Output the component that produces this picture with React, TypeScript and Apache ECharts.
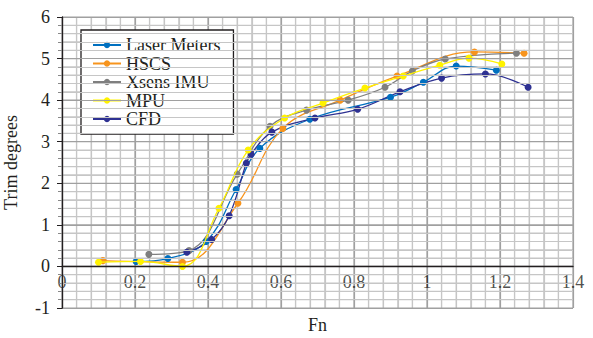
import React, { useEffect, useRef } from "react";
import * as echarts from "echarts";

const seriesNames = ["Laser Meters", "HSCS", "Xsens IMU", "MPU", "CFD"];
const seriesColors = ["#0070C0", "#F7941D", "#7F7F7F", "#FFF200", "#2E3192"];

const laserFn = [0.203, 0.29, 0.395, 0.477, 0.542, 0.679, 0.9, 0.99, 1.08, 1.19];
const laserTrim = [0.12, 0.19, 0.6, 1.85, 2.84, 3.54, 4.07, 4.43, 4.82, 4.72];

const hscsFn = [0.112, 0.33, 0.482, 0.605, 0.762, 0.918, 1.13, 1.266];
const hscsTrim = [0.14, 0.1, 1.52, 3.32, 4.0, 4.58, 5.16, 5.13];

const xsensFn = [0.238, 0.348, 0.48, 0.57, 0.67, 0.784, 0.885, 0.96, 1.05, 1.245];
const xsensTrim = [0.29, 0.38, 2.22, 3.37, 3.76, 4.0, 4.31, 4.7, 4.99, 5.13];

const mpuFn = [0.1, 0.215, 0.33, 0.43, 0.51, 0.61, 0.715, 0.83, 0.935, 1.035, 1.115, 1.205];
const mpuTrim = [0.1, 0.12, 0.0, 1.4, 2.8, 3.57, 3.93, 4.29, 4.58, 4.84, 5.01, 4.87];

const cfdFn = [0.342, 0.41, 0.458, 0.505, 0.518, 0.575, 0.693, 0.81, 0.926, 1.04, 1.16, 1.277];
const cfdTrim = [0.34, 0.65, 1.22, 2.48, 2.7, 3.23, 3.57, 3.78, 4.2, 4.53, 4.63, 4.31];

const xTickValues = [0, 0.2, 0.4, 0.6, 0.8, 1, 1.2, 1.4];
const xTickLabels = ["0", "0.2", "0.4", "0.6", "0.8", "1", "1.2", "1.4"];

const allFn = [laserFn, hscsFn, xsensFn, mpuFn, cfdFn];
const allTrim = [laserTrim, hscsTrim, xsensTrim, mpuTrim, cfdTrim];

const FONT = "Liberation Serif";
const FS = 18;
const GRID_TOP = 17;
const GRID_BOTTOM = 30;
const X_MIN = 0;
const X_MAX = 1.4;
const Y_MIN = -1;
const Y_MAX = 6;
const PLOT_H = 338 - GRID_TOP - GRID_BOTTOM;
const ZERO_OFFSET = -(0 - Y_MIN) / (Y_MAX - Y_MIN) * PLOT_H;
const MAJOR_COLOR = "#A0A0A0";
const MINOR_COLOR = "#C6C6C6";

// grid line positions (kind 0 = vertical at x, kind 1 = horizontal at y; major flag)
const gridLineItems: number[][] = [];
for (let i = 0; i <= 35; i++) gridLineItems.push([0, Math.round(i * 4) / 100, i % 5 === 0 ? 1 : 0]);
for (let i = 0; i <= 35; i++) gridLineItems.push([1, Math.round((Y_MIN + i * 0.2) * 10) / 10, i % 5 === 0 ? 1 : 0]);

export default function App() {
  const ref = useRef<HTMLDivElement>(null);
  useEffect(() => {
    if (!ref.current) return;
    const chart = echarts.init(ref.current, undefined, { renderer: "svg" });
    const series: any[] = [];
    series.push({
      name: "gridlines",
      type: "custom",
      xAxisIndex: 0,
      silent: true,
      clip: false,
      z: 1,
      data: gridLineItems,
      encode: { x: -1, y: -1 },
      renderItem: (_params: any, api: any) => {
        const kind = api.value(0);
        const v = api.value(1);
        const major = api.value(2) === 1;
        let p1, p2;
        if (kind === 0) {
          p1 = api.coord([v, Y_MIN]);
          p2 = api.coord([v, Y_MAX]);
        } else {
          p1 = api.coord([X_MIN, v]);
          p2 = api.coord([X_MAX, v]);
        }
        return {
          type: "line",
          shape: { x1: p1[0], y1: p1[1], x2: p2[0], y2: p2[1] },
          style: { stroke: major ? MAJOR_COLOR : MINOR_COLOR, lineWidth: 1.2 },
          z2: major ? 2 : 1,
        };
      },
    });
    seriesNames.forEach((name, i) => {
      series.push({
        name,
        type: "line",
        xAxisIndex: 0,
        smooth: 0.4,
        data: allFn[i].map((x, j) => [x, allTrim[i][j]]),
        symbol: "circle",
        symbolSize: 7,
        itemStyle: { color: seriesColors[i] },
        lineStyle: { color: seriesColors[i], width: 1.3 },
        z: i === 3 ? 4 : 3,
      });
    });
    series.push({
      name: "xticks",
      type: "scatter",
      xAxisIndex: 0,
      data: xTickValues.map((x, i) => ({ value: [x, 0], label: { formatter: xTickLabels[i] } })),
      symbolSize: 1,
      itemStyle: { color: "rgba(0,0,0,0)" },
      silent: true,
      z: 2,
      label: {
        show: true,
        position: "bottom",
        distance: 6,
        fontFamily: FONT,
        fontSize: FS,
        color: "#231F20",
      },
    });
    const xCommon = { type: "value", min: X_MIN, max: X_MAX, interval: 0.2 };
    chart.setOption({
      animation: false,
      backgroundColor: "#ffffff",
      textStyle: { fontFamily: FONT },
      grid: { left: 62, right: 20, top: GRID_TOP, bottom: GRID_BOTTOM, containLabel: false, outerBoundsMode: "none" },
      legend: {
        orient: "vertical",
        left: 81,
        top: 30,
        backgroundColor: "#ffffff",
        borderColor: "#231F20",
        borderWidth: 1.3,
        borderRadius: 0,
        padding: [6, 13, 6, 11],
        itemGap: 0.5,
        itemWidth: 28,
        itemHeight: 8,
        textStyle: { fontFamily: FONT, fontSize: FS, lineHeight: 17, color: "#231F20" },
        data: seriesNames,
      },
      xAxis: [
        {
          ...xCommon,
          position: "bottom",
          name: "Fn",
          nameLocation: "middle",
          nameGap: 8,
          nameTextStyle: { fontFamily: FONT, fontSize: FS, color: "#231F20", verticalAlign: "top" },
          axisLine: { show: false, onZero: false },
          axisTick: { show: false },
          axisLabel: { show: false },
          splitLine: { show: true, lineStyle: { color: MAJOR_COLOR, width: 1.2 } },
          minorTick: { show: false, splitNumber: 5 },
          minorSplitLine: { show: true, lineStyle: { color: MINOR_COLOR, width: 1.2 } },
        },
        {
          ...xCommon,
          position: "bottom",
          offset: ZERO_OFFSET,
          axisLine: { show: true, onZero: false, lineStyle: { color: "#231F20", width: 1.3 } },
          axisTick: { show: false },
          splitLine: { show: false },
          axisLabel: { show: false },
          z: 5,
        },
      ],
      yAxis: {
        type: "value",
        min: Y_MIN,
        max: Y_MAX,
        interval: 1,
        name: "Trim degrees",
        nameLocation: "middle",
        nameGap: 42,
        nameTextStyle: { fontFamily: FONT, fontSize: FS, color: "#231F20" },
        axisLine: { show: true, onZero: false, lineStyle: { color: "#231F20", width: 1.3 } },
        axisTick: { show: true, length: 5, lineStyle: { color: "#231F20" } },
        minorTick: { show: true, splitNumber: 5, length: 4, lineStyle: { color: "#888888" } },
        axisLabel: { fontFamily: FONT, fontSize: FS, color: "#231F20", margin: 12 },
        splitLine: { show: true, lineStyle: { color: MAJOR_COLOR, width: 1.2 } },
        minorSplitLine: { show: true, lineStyle: { color: MINOR_COLOR, width: 1.2 } },
        z: 5,
      },
      series,
    });
    return () => chart.dispose();
  }, []);
  return <div ref={ref} style={{ width: 593, height: 338, position: "absolute", left: 0, top: 0 }} />;
}
